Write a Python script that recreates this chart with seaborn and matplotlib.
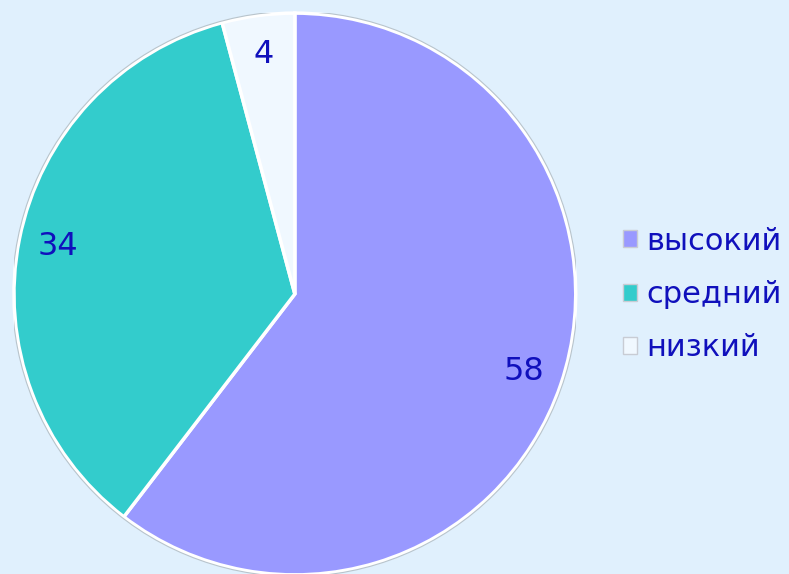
import matplotlib
matplotlib.use("Agg")
import matplotlib.pyplot as plt
import seaborn as sns

# data
levels = ["высокий", "средний", "низкий"]
counts = [58, 34, 4]
colors = ["#9999FF", "#33CCCC", "#F0F8FF"]

bg = "#E0F0FD"
txt = "#1010BC"

sns.set_style("white", {"axes.facecolor": bg, "figure.facecolor": bg})
plt.rcParams["font.family"] = ["DejaVu Sans"]

fig = plt.figure(figsize=(7.89, 5.74), dpi=100)
ax = fig.add_axes([0.0177, -0.0017, 0.712, 0.979])

wedges, texts, autotexts = ax.pie(
    counts, colors=colors, startangle=90, counterclock=False,
    autopct=lambda p: "%d" % round(p * sum(counts) / 100),
    pctdistance=0.86, radius=1,
    wedgeprops=dict(edgecolor="white", linewidth=2.5),
    textprops=dict(color=txt, fontsize=23),
)
ax.add_patch(plt.Circle((0, 0), 1.006, fill=False, edgecolor="#B8C4CC", lw=0.8))
ax.set_xlim(-1, 1)
ax.set_ylim(-1, 1)
ax.set_aspect("equal")
ax.axis("off")

leg = fig.legend(wedges, levels, loc="center left", bbox_to_anchor=(0.770, 0.487),
                 frameon=False, fontsize=22, handlelength=0.48, handleheight=0.48,
                 handletextpad=0.3, labelspacing=0.8, borderpad=0)
for t in leg.get_texts():
    t.set_color(txt)
for h in leg.legend_handles:
    h.set_edgecolor("#C8CCD4")
    h.set_linewidth(1)

fig.savefig("out.png", dpi=100, facecolor=bg)
